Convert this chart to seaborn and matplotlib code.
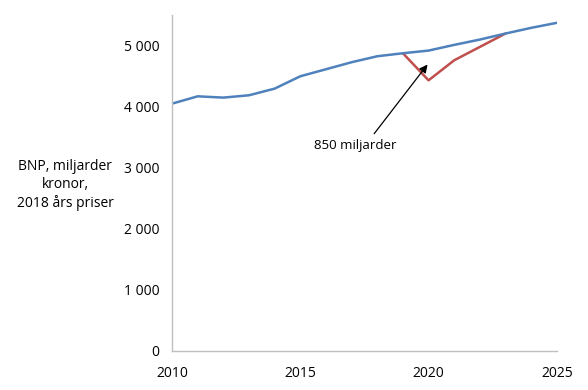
import matplotlib
matplotlib.use('Agg')
import matplotlib.pyplot as plt
import seaborn as sns
import pandas as pd

years = [2010, 2011, 2012, 2013, 2014, 2015, 2016, 2017, 2018, 2019, 2020, 2021, 2022, 2023, 2024, 2025]
bnp_base = [4049, 4169, 4148, 4186, 4295, 4497, 4612, 4727, 4825, 4874, 4918, 5011, 5098, 5197, 5290, 5372]
crisis_years = [2019, 2020, 2021, 2022, 2023]
bnp_crisis = [4874, 4431, 4759, 4978, 5197]
y_ticks = [0, 1000, 2000, 3000, 4000, 5000]
x_ticks = [2010, 2015, 2020, 2025]

sns.set_theme(style='white')
plt.rcParams['font.family'] = ['Open Sans', 'DejaVu Sans']
plt.rcParams['text.color'] = 'black'

df_base = pd.DataFrame({'year': years, 'bnp': bnp_base})
df_crisis = pd.DataFrame({'year': crisis_years, 'bnp': bnp_crisis})

fig = plt.figure(figsize=(5.88, 3.90), dpi=100)
ax = fig.add_axes([0.2925, 0.1, 0.6545, 0.8615])

sns.lineplot(data=df_crisis, x='year', y='bnp', color='#C0504D', lw=1.8, ax=ax)
sns.lineplot(data=df_base, x='year', y='bnp', color='#4F81BD', lw=1.8, ax=ax)

ax.set_xlim(2010, 2025)
ax.set_ylim(0, 5500)
ax.set_xticks(x_ticks)
ax.set_yticks(y_ticks)
ax.set_yticklabels([f'{v:,}'.replace(',', '\u00a0') for v in y_ticks])
ax.set_xlabel('')
ax.set_ylabel('')

for s in ['top', 'right']:
    ax.spines[s].set_visible(False)
for s in ['left', 'bottom']:
    ax.spines[s].set_color('#BFBFBF')
    ax.spines[s].set_linewidth(1)
ax.tick_params(axis='both', direction='out', length=5, color='#BFBFBF',
               labelsize=10, labelcolor='black', width=1)
ax.tick_params(axis='x', pad=6)
ax.tick_params(axis='y', pad=4)

# arrow pointing at the gap between the two paths
ax.annotate('', xy=(2019.96, 4690), xytext=(2017.88, 3557),
            arrowprops=dict(arrowstyle='-|>', color='black', lw=0.9,
                            shrinkA=0, shrinkB=0, mutation_scale=12))
ax.text(2017.13, 3361, '850 miljarder', ha='center', va='center', fontsize=9.5, color='black')

fig.text(65 / 588, 1 - 185 / 390, 'BNP, miljarder\nkronor,\n2018 års priser',
         ha='center', va='center', fontsize=10, linespacing=1.3, color='black')

fig.savefig('out.png', dpi=100)
